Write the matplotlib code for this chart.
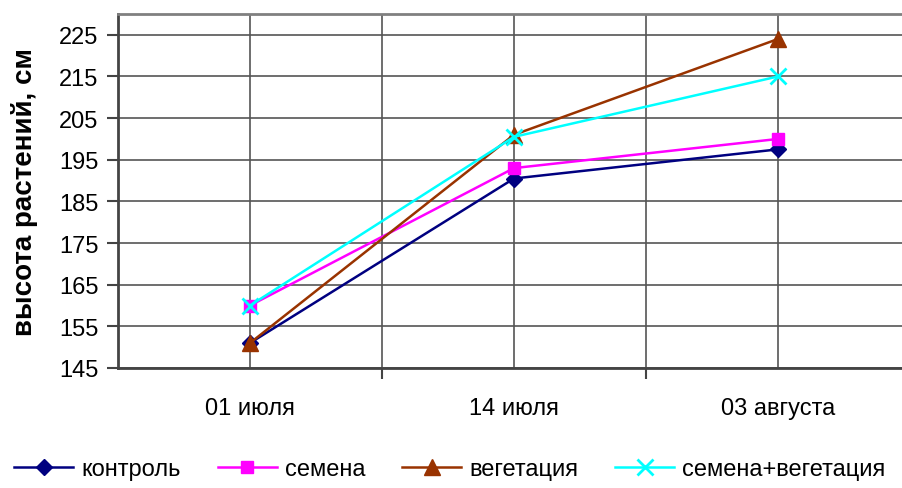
import numpy as np
import matplotlib.pyplot as plt

plt.rcParams['font.family'] = ['Liberation Sans', 'DejaVu Sans']

# данные
dates = ['01 июля', '14 июля', '03 августа']
kontrol = [151, 190.5, 197.5]
semena = [160, 193, 200]
vegetaciya = [151, 201, 224]
sem_veg = [160, 200.5, 215]
yticks = [145, 155, 165, 175, 185, 195, 205, 215, 225]

fig = plt.figure(figsize=(9.03, 4.89), dpi=100)
ax = fig.add_axes([118/903, 1-369/489, 792/903, 354/489])

x = np.arange(len(dates))
ax.plot(x, kontrol, color='#000080', marker='D', ms=8, lw=1.8, label='контроль')
ax.plot(x, semena, color='#FF00FF', marker='s', ms=9, lw=1.8, label='семена')
ax.plot(x, vegetaciya, color='#993300', marker='^', ms=11, lw=1.8, label='вегетация')
ax.plot(x, sem_veg, color='#00FFFF', marker='x', ms=11, mew=2, lw=1.8, label='семена+вегетация')

ax.set_xlim(-0.5, 2.5)
ax.set_ylim(145, 230)
ax.set_yticks(yticks)
ax.set_xticks(x)
ax.set_xticklabels(dates)
ax.set_xticks([0.5, 1.5], minor=True)
ax.tick_params(axis='x', which='major', length=0, pad=21, labelsize=17)
ax.tick_params(axis='x', which='minor', length=8, width=1.5, color='#444444')
ax.tick_params(axis='y', length=8, width=1.5, color='#444444', labelsize=17, pad=6)

ax.grid(True, which='both', color='#555555', lw=1.2)
ax.set_axisbelow(True)
for s in ['left', 'bottom']:
    ax.spines[s].set_linewidth(2)
    ax.spines[s].set_color('#444444')
ax.spines['top'].set_linewidth(2)
ax.spines['top'].set_color('#808080')
ax.spines['right'].set_visible(False)

ax.set_ylabel('высота растений, см', fontsize=20, fontweight='bold', labelpad=15)

fig.legend(loc='center left', bbox_to_anchor=(0.016, 1-470/489), ncol=4, frameon=False,
           fontsize=17, handlelength=2.5, columnspacing=1.55, handletextpad=0.35,
           borderpad=0, borderaxespad=0)

plt.savefig('out.png', dpi=100)
